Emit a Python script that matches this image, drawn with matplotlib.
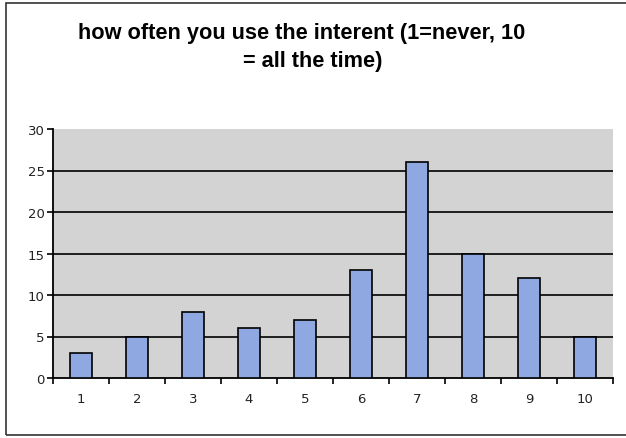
import matplotlib
matplotlib.use("Agg")
import matplotlib.pyplot as plt
from matplotlib.patches import Rectangle

# answers 1..10, number of people
ratings = ["1", "2", "3", "4", "5", "6", "7", "8", "9", "10"]
counts = [3, 5, 8, 6, 7, 13, 26, 15, 12, 5]
yticks = [0, 5, 10, 15, 20, 25, 30]

fig = plt.figure(figsize=(6.26, 4.39), dpi=100)
ax = fig.add_axes([53 / 626, 1 - 379 / 439, 560 / 626, 249 / 439])

ax.set_facecolor("#d3d3d3")
pos = list(range(len(ratings)))
ax.bar(pos, counts, width=0.4, color="#8fa8e2", edgecolor="black", linewidth=1.2, zorder=3)

ax.set_xlim(-0.5, len(ratings) - 0.5)
ax.set_ylim(0, 30)
ax.set_yticks(yticks)
ax.set_yticklabels([str(v) for v in yticks], fontsize=9.5, color="#222222")
ax.set_xticks(pos)
ax.set_xticklabels(ratings, fontsize=9.5, color="#222222")
ax.tick_params(axis="x", length=0, pad=10)
ax.set_xticks([p + 0.5 for p in pos[:-1]] + [-0.5, len(ratings) - 0.5], minor=True)
ax.tick_params(axis="x", which="minor", length=4, width=1.2, direction="out")
ax.tick_params(axis="y", length=4, width=1.2, direction="out", pad=2)

for v in yticks[1:-1]:
    ax.axhline(v, color="black", linewidth=1.2, zorder=2)

for s in ["top", "right"]:
    ax.spines[s].set_visible(False)
for s in ["left", "bottom"]:
    ax.spines[s].set_linewidth(1.3)

fig.text(302 / 626, 1 - 33 / 439, "how often you use the interent (1=never, 10",
         ha="center", va="center", fontsize=15.7, fontweight="bold",
         family="Liberation Sans")
fig.text(313 / 626, 1 - 61 / 439, "= all the time)",
         ha="center", va="center", fontsize=15.7, fontweight="bold",
         family="Liberation Sans")

# outer frame of the chart
fig.patches.append(Rectangle((6 / 626, 3 / 439), 640 / 626, 432 / 439,
                             transform=fig.transFigure, fill=False,
                             edgecolor="#333333", linewidth=1.2))

fig.savefig("out.png", dpi=100)
